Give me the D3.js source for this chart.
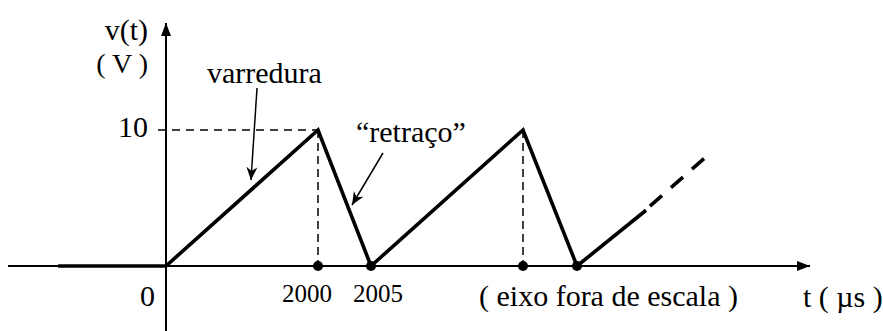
<!DOCTYPE html>
<html><head><meta charset="utf-8"><script src="https://cdn.jsdelivr.net/npm/d3@7"></script></head>
<body style="margin:0">
<svg id="chart" width="883" height="331"></svg>
<script>
// Sawtooth sweep voltage v(t): breakpoints in microseconds and volts
const waveT = [-1420, 0, 2000, 2005, 4005, 4010, 4918];
const waveV = [0, 0, 10, 0, 10, 0, 4.1];
// continuation of the next sweep, drawn dashed
const contT = [4970, 5681];
const contV = [4.4, 7.9];
// marked instants on the time axis
const markT = [2000, 2005, 4005, 4010];
// peaks with dashed guide lines down to the axis
const peakT = [2000, 4005];
const peakV = 10;
// tick labels
const yTickLabel = "10";
const xTickLabels = ["2000", "2005"];

const svg = d3.select("#chart");

// time axis is not to scale: piecewise-linear mapping between breakpoints
const x = d3.scaleLinear()
  .domain([-2080, 0, 2000, 2005, 4005, 4010, 6010])
  .range([8, 166, 318, 371, 523, 577, 729]);
const y = d3.scaleLinear().domain([0, 10]).range([266, 130]);

// labels first
const labels = [
  {s: "v(t)", px: 148, py: 40, size: 30, a: "end"},
  {s: "( V )", px: 148, py: 73, size: 28, a: "end"},
  {s: yTickLabel, px: 148, py: y(peakV) + 7, size: 30, a: "end"},
  {s: "0", px: 155, py: 306, size: 30, a: "end"},
  {s: "varredura", px: 207, py: 83, size: 30, a: "start"},
  {s: "\u201Cretraço\u201D", px: 356, py: 142, size: 30, a: "start"},
  {s: xTickLabels[0], px: x(2000) + 14, py: 302, size: 25, a: "end"},
  {s: xTickLabels[1], px: x(2005) - 18, py: 302, size: 25, a: "start"},
  {s: "( eixo fora de escala )", px: 479, py: 306, size: 30, a: "start"},
  {s: "t ( µs )", px: 803, py: 307, size: 30, a: "start"}
];
svg.selectAll("text").data(labels).join("text")
  .attr("x", d => d.px).attr("y", d => d.py)
  .style("font-family", '"Liberation Serif"')
  .attr("font-size", d => d.size)
  .attr("text-anchor", d => d.a)
  .text(d => d.s);

const defs = svg.append("defs");
defs.append("marker")
  .attr("id", "axisHead").attr("viewBox", "-13 -6 14 12")
  .attr("refX", 0).attr("refY", 0)
  .attr("markerWidth", 14).attr("markerHeight", 12)
  .attr("markerUnits", "userSpaceOnUse").attr("orient", "auto")
  .append("path").attr("d", "M0,0 L-13,-5 L-13,5 Z").attr("fill", "#000");
defs.append("marker")
  .attr("id", "noteHead").attr("viewBox", "-13 -6 14 12")
  .attr("refX", 0).attr("refY", 0)
  .attr("markerWidth", 14).attr("markerHeight", 12)
  .attr("markerUnits", "userSpaceOnUse").attr("orient", "auto")
  .append("path").attr("d", "M0,0 L-13,-5.5 L-9,0 L-13,5.5 Z").attr("fill", "#000");

// axes
svg.append("line")
  .attr("x1", x(-2080)).attr("x2", 810)
  .attr("y1", y(0)).attr("y2", y(0))
  .attr("stroke", "#000").attr("stroke-width", 2)
  .attr("marker-end", "url(#axisHead)");
svg.append("line")
  .attr("x1", x(0)).attr("x2", x(0))
  .attr("y1", 331).attr("y2", 23)
  .attr("stroke", "#000").attr("stroke-width", 2)
  .attr("marker-end", "url(#axisHead)");

// dashed guides: level 10 V and the peak instants
svg.append("line")
  .attr("x1", x(0) - 8).attr("x2", x(peakT[0]))
  .attr("y1", y(peakV)).attr("y2", y(peakV))
  .attr("stroke", "#000").attr("stroke-width", 1.5)
  .attr("stroke-dasharray", "8,6");
svg.selectAll("line.guide").data(peakT).join("line")
  .attr("class", "guide")
  .attr("x1", d => x(d)).attr("x2", d => x(d))
  .attr("y1", y(peakV)).attr("y2", y(0))
  .attr("stroke", "#000").attr("stroke-width", 1.5)
  .attr("stroke-dasharray", "8,5");

// waveform
const line = d3.line().x(d => x(d[0])).y(d => y(d[1]));
svg.append("path")
  .datum(d3.zip(waveT, waveV))
  .attr("d", line)
  .attr("fill", "none").attr("stroke", "#000")
  .attr("stroke-width", 3.6);
svg.append("path")
  .datum(d3.zip(contT, contV))
  .attr("d", line)
  .attr("fill", "none").attr("stroke", "#000")
  .attr("stroke-width", 3.6).attr("stroke-dasharray", "16,12");

// marked instants
svg.selectAll("circle.mark").data(markT).join("circle")
  .attr("class", "mark")
  .attr("cx", d => x(d)).attr("cy", y(0)).attr("r", 5)
  .attr("fill", "#000");

// annotation arrows
svg.append("line")
  .attr("x1", 257).attr("y1", 88).attr("x2", 251).attr("y2", 180)
  .attr("stroke", "#000").attr("stroke-width", 1.5)
  .attr("marker-end", "url(#noteHead)");
svg.append("line")
  .attr("x1", 383).attr("y1", 153).attr("x2", 352).attr("y2", 205)
  .attr("stroke", "#000").attr("stroke-width", 1.5)
  .attr("marker-end", "url(#noteHead)");
</script></body></html>
